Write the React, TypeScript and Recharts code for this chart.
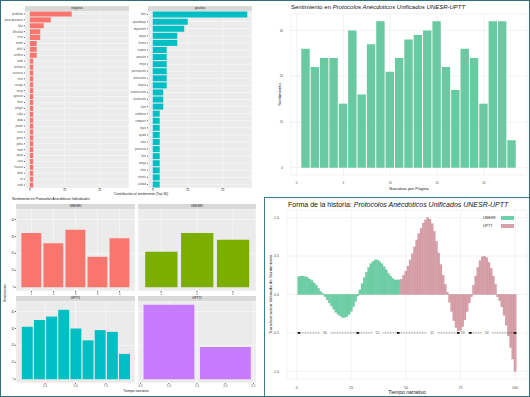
import React from 'react';
import {
  BarChart, Bar, XAxis, YAxis, CartesianGrid, ComposedChart, Line, Scatter, Label
} from 'recharts';

const FONT = '"Liberation Sans", Arial, sans-serif';

// contribución por palabra (top 30)
const negWords = [
  'problema', 'preocupaciones', 'falta', 'dificultad', 'error', 'miedo', 'difícil', 'conflicto',
  'tarde', 'rechazo', 'ausencia', 'triste', 'castigo', 'enojo', 'agresivo', 'llorar', 'peligro',
  'culpa', 'duda', 'perder', 'crisis', 'grave', 'pelea', 'malo', 'queja', 'caos', 'fracaso',
  'dolor', 'no', 'ruido',
];
const negCounts = [12, 6, 4, 3, 3, 2, 2, 2, 1, 1, 1, 1, 1, 1, 1, 1, 1, 1, 1, 1, 1, 1, 1, 1, 1, 1, 1, 1, 1, 1];
const posWords = [
  'bien', 'aprendizaje', 'importante', 'apoyo', 'bueno', 'respeto', 'atención', 'mejor',
  'participación', 'interesante', 'alegría', 'comunicación', 'orientación', 'claro', 'confianza',
  'compartir', 'logro', 'ayuda', 'valor', 'paciencia', 'feliz', 'amigo', 'éxito', 'interés', 'calidad',
];
const posCounts = [27, 10, 9, 7, 7, 4, 4, 4, 4, 4, 4, 3, 3, 3, 2, 2, 2, 2, 2, 2, 2, 2, 2, 2, 2];

// sentimiento por página
const pages = [1, 2, 3, 4, 5, 6, 7, 8, 9, 10, 11, 12, 13, 14, 15, 16, 17, 18, 19, 20, 21, 22, 23];
const pageSentiment = [26, 22, 24, 24, 14, 30, 16, 27, 32, 21, 24, 28, 29, 30, 32, 22, 17, 26, 24, 14, 32, 32, 6];

// protocolos individuales
const protNames = ['UNESR1', 'UNESR2', 'UPTT1', 'UPTT2'];
const protColors = ['#F8766D', '#7CAE00', '#00BFC4', '#C77CFF'];
const protValues = [
  [32, 26, 34, 18, 29],
  [21, 32, 28],
  [31, 35, 37, 41, 30, 23, 29, 28, 15],
  [44, 19],
];

// forma de la historia (100 pasos)
const shapeValues = [
  0.23, 0.24, 0.24, 0.23, 0.22, 0.20, 0.18, 0.15, 0.12, 0.08,
  0.04, 0.01, -0.03, -0.07, -0.11, -0.15, -0.19, -0.23, -0.26, -0.28,
  -0.30, -0.30, -0.29, -0.26, -0.22, -0.16, -0.09, -0.02, 0.06, 0.14,
  0.22, 0.29, 0.35, 0.40, 0.43, 0.45, 0.45, 0.43, 0.40, 0.36,
  0.32, 0.27, 0.24, 0.21, 0.19, 0.19, 0.19, 0.20, 0.25, 0.30,
  0.37, 0.45, 0.53, 0.62, 0.71, 0.79, 0.86, 0.93, 0.97, 1.00,
  0.98, 0.92, 0.82, 0.69, 0.54, 0.39, 0.25, 0.13, 0.03, -0.10,
  -0.22, -0.34, -0.43, -0.48, -0.47, -0.42, -0.33, -0.22, -0.11, -0.03,
  0.12, 0.24, 0.35, 0.44, 0.49, 0.50, 0.48, 0.42, 0.34, 0.24,
  0.13, -0.03, -0.08, -0.16, -0.27, -0.40, -0.54, -0.69, -0.84, -1.00,
];
const unesrLength = 47;
const groups = ['UNESR', 'UPTT'];
const groupColors = ['#6FCFA6', '#D8A0A9'];
const groupEdges = ['#5BBF95', '#C48894'];
const breakPoints = [1, 28, 46.5, 74, 79.5, 100];
const breakLabelPos = [13, 37, 62, 76, 87];
const breakLabels = ['65', '52', '51', '53', '54'];

const negData = negWords.map((w, i) => ({ word: w, n: negCounts[i] }));
const posData = posWords.map((w, i) => ({ word: w, n: posCounts[i] }));
const pageData = pages.map((p, i) => ({ x: p, v: pageSentiment[i] }));
const shapeData = shapeValues.map((v, i) => ({
  x: i + 1,
  unesr: i < unesrLength ? v : null,
  uptt: i < unesrLength ? null : v,
  base: -0.5,
}));
const breakData = breakPoints.map(x => ({ x, y: -0.5 }));
const breakLabelData = breakLabelPos.map((x, i) => ({ x, y: -0.5, label: breakLabels[i] }));

const axisText = { fontSize: 3, fill: '#4D4D4D' };

// barra contigua: cubre todo el paso de 1 unidad en x
const stepBar = (fill: string, edge: string) => (p: any) => {
  if (!p.height || !p.width) return <g />;
  const cx = p.x + p.width / 2;
  const w = 2.25;
  const y = Math.min(p.y, p.y + p.height);
  return <rect x={cx - w / 2} y={y} width={w} height={Math.abs(p.height)} fill={fill} stroke={edge} strokeWidth={0.3} />;
};

const Strip = ({ left, top, width, text }: any) => (
  <div style={{
    position: 'absolute', left, top, width, height: 5, background: '#D9D9D9',
    fontSize: 3, lineHeight: '5px', textAlign: 'center', color: '#1A1A1A',
  }}>{text}</div>
);

const WordFacet = ({ left, top, yW, data, color, label }: any) => (
  <>
    <Strip left={left + yW} top={top - 5} width={104} text={label} />
    <div style={{ position: 'absolute', left, top }}>
      <BarChart width={104 + yW} height={181} data={data} layout="vertical"
        margin={{ top: 0, right: 0, bottom: 0, left: 0 }} barCategoryGap="8%">
        <CartesianGrid fill="#EBEBEB" stroke="#fff" strokeWidth={0.5} />
        <XAxis type="number" dataKey="n" domain={[-1.35, 28.35]} ticks={[0, 10, 20]} height={4}
          tick={axisText} tickSize={1} tickMargin={0} axisLine={false} />
        <YAxis type="category" dataKey="word" width={yW} interval={0}
          tick={{ fontSize: 2.6, fill: '#4D4D4D' }} tickSize={1} tickMargin={1} axisLine={false} />
        <Bar dataKey="n" fill={color} isAnimationActive={false} />
      </BarChart>
    </div>
  </>
);

const ProtFacet = ({ left, top, w, yW, values, color, domain, ticks, fmt, label }: any) => {
  const data = values.map((v: number, i: number) => ({ x: i + 1, v }));
  const bw = (w / (domain[1] - domain[0])) * 0.9;
  return (
    <>
      <Strip left={left} top={top - 5} width={w} text={label} />
      <div style={{ position: 'absolute', left: left - yW, top }}>
        <BarChart width={w + yW} height={87} data={data}
          margin={{ top: 0, right: 0, bottom: 0, left: 0 }}>
          <CartesianGrid fill="#EBEBEB" stroke="#fff" strokeWidth={0.5} />
          <XAxis type="number" dataKey="x" domain={domain} ticks={ticks} height={5}
            tick={axisText} tickSize={1} tickMargin={0.5} axisLine={false} tickFormatter={fmt} />
          <YAxis type="number" domain={[-2.2, 46.2]} ticks={[0, 10, 20, 30, 40]} width={yW} hide={yW === 0}
            tick={axisText} tickSize={1} tickMargin={0.5} axisLine={false} />
          <Bar dataKey="v" fill={color} barSize={bw} isAnimationActive={false} />
        </BarChart>
      </div>
    </>
  );
};

const fmt1 = (v: number) => v.toFixed(1);

export default function App() {
  return (
    <div style={{
      position: 'relative', width: 530, height: 397, background: '#fff', fontFamily: FONT,
      boxSizing: 'border-box', border: '1.5px solid #2E6F7E', overflow: 'hidden',
    }}>
      <style>{'body{margin:0}'}</style>

      {/* palabras por sentimiento */}
      <WordFacet left={0} top={10} yW={24} data={negData} color="#F8766D" label="negativo" />
      <WordFacet left={126} top={10} yW={21} data={posData} color="#00BFC4" label="positivo" />
      <div style={{ position: 'absolute', left: 60, top: 191, width: 160, textAlign: 'center', fontSize: 3.4, color: '#222' }}>
        Contribución al sentimiento (Top 30)
      </div>

      {/* protocolos individuales */}
      <div style={{ position: 'absolute', left: 11, top: 195.5, fontSize: 3.4, color: '#111' }}>
        Sentimiento en Protocolos Anecdóticos Individuales
      </div>
      <div style={{
        position: 'absolute', left: -16, top: 290, width: 40, textAlign: 'center', fontSize: 3.4,
        color: '#222', transform: 'rotate(-90deg)',
      }}>Sentimiento</div>
      <ProtFacet left={15} top={208} w={119} yW={8} values={protValues[0]} color={protColors[0]}
        domain={[0.3, 5.7]} ticks={[1, 2, 3, 4, 5]} label={protNames[0]} />
      <ProtFacet left={137} top={208} w={118} yW={0} values={protValues[1]} color={protColors[1]}
        domain={[0.355, 3.645]} ticks={[1, 2, 3]} label={protNames[1]} />
      <ProtFacet left={15} top={300} w={119} yW={8} values={protValues[2]} color={protColors[2]}
        domain={[0.105, 9.895]} ticks={[2.5, 5, 7.5]} fmt={fmt1} label={protNames[2]} />
      <ProtFacet left={137} top={300} w={118} yW={0} values={protValues[3]} color={protColors[3]}
        domain={[0.455, 2.545]} ticks={[0.5, 1, 1.5, 2, 2.5]} fmt={fmt1} label={protNames[3]} />
      <div style={{ position: 'absolute', left: 95, top: 387.5, width: 80, textAlign: 'center', fontSize: 3.4, color: '#222' }}>
        Tiempo narrativo
      </div>

      {/* sentimiento por página */}
      <div style={{ position: 'absolute', left: 290, top: 3, fontSize: 6, color: '#111', whiteSpace: 'nowrap' }}>
        Sentimiento en <i>Protocolos Anécdoticos Unificados UNESR-UPTT</i>
      </div>
      <div style={{ position: 'absolute', left: 265, top: 0 }}>
        <BarChart width={263} height={192} data={pageData}
          margin={{ top: 13, right: 2, bottom: 3, left: 0 }}>
          <CartesianGrid stroke="#EBEBEB" strokeWidth={0.6} />
          <XAxis type="number" dataKey="x" domain={[-0.6, 24.6]} ticks={[0, 5, 10, 15, 20]} height={15}
            tick={axisText} tickLine={false} axisLine={false} tickMargin={1}>
            <Label value="Narrativa por Página" position="insideBottom" offset={0} fontSize={4.3} fill="#222" />
          </XAxis>
          <YAxis type="number" domain={[-1.6, 33.6]} ticks={[0, 10, 20, 30]} width={25}
            tick={axisText} tickLine={false} axisLine={false} tickMargin={2}>
            <Label value="Sentimiento" angle={-90} position="insideLeft" offset={13} fontSize={4.3} fill="#222"
              style={{ textAnchor: 'middle' }} />
          </YAxis>
          <Bar dataKey="v" fill="#69C9A1" barSize={8.4} isAnimationActive={false} />
        </BarChart>
      </div>

      {/* forma de la historia */}
      <div style={{
        position: 'absolute', left: 263, top: 196, width: 266, height: 200, boxSizing: 'border-box',
        border: '1px solid #3B7F8E',
      }} />
      <div style={{ position: 'absolute', left: 287, top: 199.5, fontSize: 7, color: '#111', whiteSpace: 'nowrap' }}>
        Forma de la historia: <i>Protocolos Anécdoticos Unificados UNESR-UPTT</i>
      </div>
      <div style={{ position: 'absolute', left: 265, top: 195 }}>
        <ComposedChart width={263} height={199} data={shapeData}
          margin={{ top: 14, right: 2, bottom: 1, left: 0 }} stackOffset="sign"
          barCategoryGap={0} barGap={0}>
          <CartesianGrid stroke="#EBEBEB" strokeWidth={0.6} />
          <XAxis type="number" dataKey="x" domain={[-4.44, 105.44]} ticks={[0, 25, 50, 75, 100]} height={15}
            tick={{ fontSize: 3.6, fill: '#4D4D4D' }} tickLine={false} axisLine={false} tickMargin={1}>
            <Label value="Tiempo narrativo" position="insideBottom" offset={0} fontSize={5} fill="#222" />
          </XAxis>
          <YAxis type="number" domain={[-1.1, 1.1]} ticks={[-1, -0.5, 0, 0.5, 1]} width={21}
            tick={{ fontSize: 3.6, fill: '#4D4D4D' }} tickLine={false} axisLine={false} tickMargin={2}
            tickFormatter={fmt1}>
            <Label value="Transformación Valorada de Sentimiento" angle={-90} position="insideLeft" offset={4}
              fontSize={4.4} fill="#222" style={{ textAnchor: 'middle' }} />
          </YAxis>
          <Bar dataKey="unesr" stackId="s" fill={groupColors[0]} shape={stepBar(groupColors[0], groupEdges[0])}
            isAnimationActive={false} />
          <Bar dataKey="uptt" stackId="s" fill={groupColors[1]} shape={stepBar(groupColors[1], groupEdges[1])}
            isAnimationActive={false} />
          <Line dataKey="base" stroke="#333" strokeWidth={0.7} strokeDasharray="0.7 0.9" dot={false}
            isAnimationActive={false} />
          <Scatter data={breakLabelData} dataKey="y" isAnimationActive={false}
            shape={(p: any) => (
              <g>
                <rect x={p.cx - 5} y={p.cy - 2} width={10} height={4} fill="#fff" />
                <text x={p.cx} y={p.cy + 1.2} fontSize={3.4} fill="#555" textAnchor="middle">{p.payload.label}</text>
              </g>
            )} />
          <Scatter data={breakData} dataKey="y" isAnimationActive={false}
            shape={(p: any) => <rect x={p.cx - 1.3} y={p.cy - 0.9} width={2.6} height={1.8} fill="#111" />} />
        </ComposedChart>
      </div>
      <div style={{ position: 'absolute', left: 482, top: 213, fontSize: 3.6, color: '#222', lineHeight: '8px' }}>
        {groups.map((g, i) => (
          <div key={g} style={{ display: 'flex', alignItems: 'center' }}>
            <span style={{ width: 18 }}>{g}</span>
            <span style={{ width: 13, height: 4, background: groupColors[i], display: 'inline-block' }} />
          </div>
        ))}
      </div>
    </div>
  );
}
